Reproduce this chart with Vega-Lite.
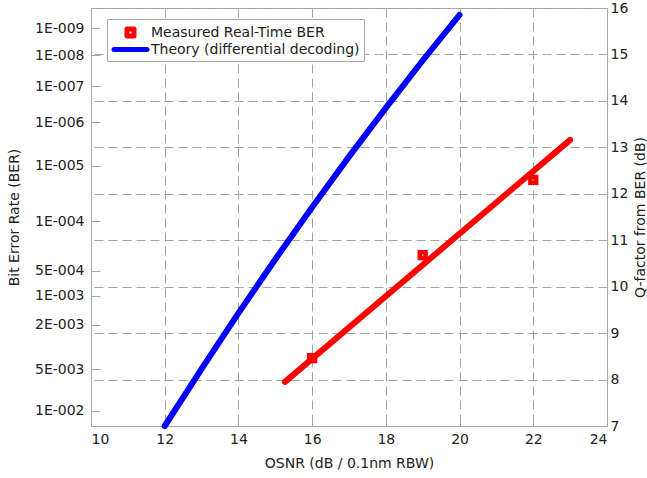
{
  "$schema": "https://vega.github.io/schema/vega-lite/v6.json",
  "width": 516,
  "height": 418,
  "autosize": {"type": "none"},
  "padding": {"left": 91, "top": 8, "right": 40, "bottom": 52},
  "background": "white",
  "config": {
    "view": {"stroke": "#a8a8a8", "strokeWidth": 1},
    "font": "DejaVu Sans",
    "axis": {
      "labelFont": "DejaVu Sans",
      "titleFont": "DejaVu Sans",
      "labelFontSize": 14,
      "titleFontSize": 14,
      "titleFontWeight": "normal",
      "labelColor": "#222222",
      "titleColor": "#222222",
      "domainColor": "#a8a8a8",
      "tickColor": "#a8a8a8",
      "gridColor": "#a3a3a3",
      "gridDash": [9, 5],
      "gridOpacity": 1,
      "tickSize": -7,
      "labelPadding": 13
    },
    "legend": {
      "orient": "none",
      "legendX": 16,
      "legendY": 11,
      "fillColor": "white",
      "strokeColor": "#a8a8a8",
      "padding": 4,
      "rowPadding": 0,
      "labelFont": "DejaVu Sans",
      "labelFontSize": 14,
      "labelColor": "#222222",
      "labelOffset": 21,
      "labelLimit": 400,
      "symbolSize": 196,
      "symbolStrokeWidth": 5
    }
  },
  "datasets": {
    "theory": [
      {"osnr": 12, "q": 7.0, "series": "Theory (differential decoding)"},
      {"osnr": 13, "q": 8.23, "series": "Theory (differential decoding)"},
      {"osnr": 14, "q": 9.43, "series": "Theory (differential decoding)"},
      {"osnr": 15, "q": 10.59, "series": "Theory (differential decoding)"},
      {"osnr": 16, "q": 11.71, "series": "Theory (differential decoding)"},
      {"osnr": 17, "q": 12.8, "series": "Theory (differential decoding)"},
      {"osnr": 18, "q": 13.85, "series": "Theory (differential decoding)"},
      {"osnr": 19, "q": 14.87, "series": "Theory (differential decoding)"},
      {"osnr": 20, "q": 15.85, "series": "Theory (differential decoding)"}
    ],
    "fit": [
      {"osnr": 15.26, "q": 7.95},
      {"osnr": 23.0, "q": 13.16}
    ],
    "measured": [
      {"osnr": 16, "q": 8.46, "series": "Measured Real-Time BER"},
      {"osnr": 19, "q": 10.68, "series": "Measured Real-Time BER"},
      {"osnr": 22, "q": 12.3, "series": "Measured Real-Time BER"}
    ],
    "legendEntries": [
      {"series": "Measured Real-Time BER"},
      {"series": "Theory (differential decoding)"}
    ]
  },
  "resolve": {"scale": {"y": "independent"}, "axis": {"x": "independent"}},
  "layer": [
    {
      "data": {"name": "fit"},
      "mark": {"type": "line", "color": "#ff0000", "strokeWidth": 6, "strokeCap": "round"},
      "encoding": {
        "x": {
          "field": "osnr", "type": "quantitative",
          "scale": {"domain": [10, 24], "nice": false},
          "axis": {"title": "OSNR (dB / 0.1nm RBW)", "values": [10, 12, 14, 16, 18, 20, 22, 24], "grid": true, "titlePadding": 10}
        },
        "y": {
          "field": "q", "type": "quantitative",
          "scale": {"domain": [7, 16], "nice": false},
          "axis": {"orient": "right", "title": "Q-factor from BER (dB)", "titleAngle": 270, "titleBaseline": "top", "values": [7, 8, 9, 10, 11, 12, 13, 14, 15, 16], "grid": true, "labelPadding": 10, "titlePadding": 6}
        }
      }
    },
    {
      "data": {"name": "theory"},
      "mark": {"type": "line", "strokeWidth": 6, "strokeCap": "round"},
      "encoding": {
        "x": {
          "field": "osnr", "type": "quantitative",
          "scale": {"domain": [10, 24], "nice": false},
          "axis": {"orient": "top", "title": null, "labels": false, "domain": false, "grid": false, "values": [10, 12, 14, 16, 18, 20, 22, 24], "tickSize": -5}
        },
        "y": {
          "field": "q", "type": "quantitative",
          "scale": {"domain": [7, 16], "nice": false},
          "axis": {
            "orient": "left",
            "title": "Bit Error Rate (BER)",
            "titlePadding": 13,
            "grid": false,
            "tickSize": -9,
            "labelPadding": 16,
            "values": [15.56, 14.98, 14.32, 13.54, 12.6, 11.41, 10.34, 9.8, 9.18, 8.22, 7.33],
            "labelExpr": "datum.value > 15.3 ? '1E-009' : datum.value > 14.6 ? '1E-008' : datum.value > 14 ? '1E-007' : datum.value > 13 ? '1E-006' : datum.value > 12 ? '1E-005' : datum.value > 11 ? '1E-004' : datum.value > 10 ? '5E-004' : datum.value > 9.5 ? '1E-003' : datum.value > 8.7 ? '2E-003' : datum.value > 7.8 ? '5E-003' : '1E-002'"
          }
        },
        "color": {
          "field": "series", "type": "nominal",
          "scale": {"domain": ["Measured Real-Time BER", "Theory (differential decoding)"], "range": ["#ff0000", "#0000ff"]},
          "legend": {"title": null, "labelExpr": "datum.label + '\u00a0\u00a0\u00a0\u00a0\u00a0\u00a0'", "encode": {"symbols": {"update": {"strokeCap": {"value": "round"}, "strokeJoin": {"value": "round"}}}}}
        }
      }
    },
    {
      "data": {"name": "measured"},
      "mark": {"type": "point", "shape": "square", "filled": false, "strokeWidth": 4.5, "size": 34, "opacity": 1},
      "encoding": {
        "x": {"field": "osnr", "type": "quantitative", "scale": {"domain": [10, 24], "nice": false}, "axis": null},
        "y": {"field": "q", "type": "quantitative", "scale": {"domain": [7, 16], "nice": false}, "axis": null},
        "color": {"field": "series", "type": "nominal", "legend": {"title": null, "labelExpr": "datum.label + '\u00a0\u00a0\u00a0\u00a0\u00a0\u00a0'"}}
      }
    },
    {
      "data": {"name": "legendEntries"},
      "transform": [{"filter": "false"}],
      "mark": {"type": "point", "filled": false, "strokeWidth": 5, "opacity": 1},
      "encoding": {
        "color": {
          "field": "series", "type": "nominal",
          "legend": {"title": null, "labelExpr": "datum.label + '\u00a0\u00a0\u00a0\u00a0\u00a0\u00a0'", "encode": {"symbols": {"update": {"strokeCap": {"value": "round"}, "strokeJoin": {"value": "round"}}}}}
        },
        "shape": {
          "field": "series", "type": "nominal",
          "scale": {"domain": ["Measured Real-Time BER", "Theory (differential decoding)"], "range": ["M0.93,-0.5H1.93V0.5H0.93Z", "M-0.93,0H3.79"]},
          "legend": {"title": null, "labelExpr": "datum.label + '\u00a0\u00a0\u00a0\u00a0\u00a0\u00a0'", "encode": {"symbols": {"update": {"strokeCap": {"value": "round"}, "strokeJoin": {"value": "round"}}}}}
        }
      }
    }
  ]
}
